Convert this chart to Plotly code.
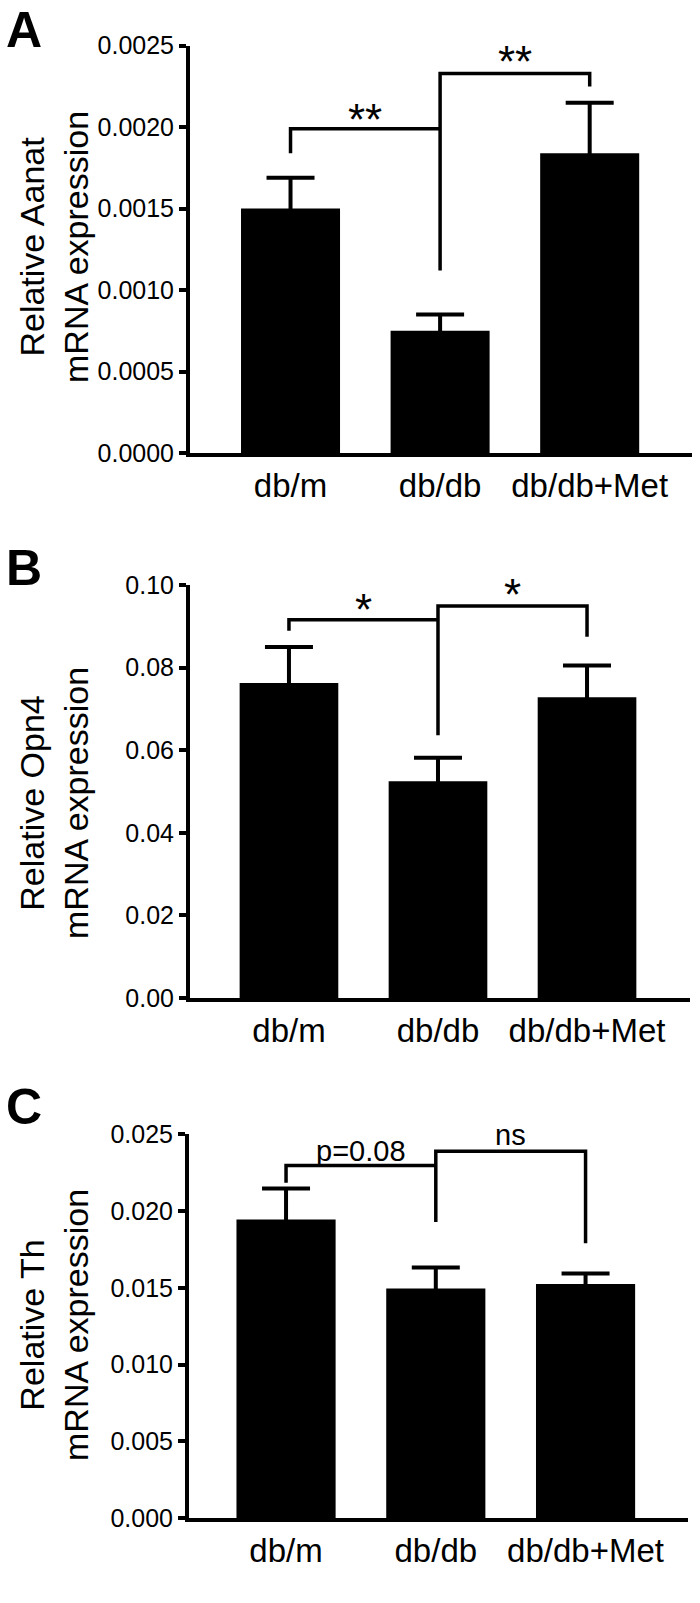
import plotly.graph_objects as go

# ---------------- data ----------------
categories = ["db/m", "db/db", "db/db+Met"]

aanat_mean = [0.00150, 0.00075, 0.00184]
aanat_err = [0.00019, 0.00010, 0.00031]

opn4_mean = [0.0763, 0.0525, 0.0728]
opn4_err = [0.0087, 0.0057, 0.0077]

th_mean = [0.01945, 0.01496, 0.01524]
th_err = [0.00202, 0.00136, 0.00069]

# significance brackets: (x list, y list)
aanat_br1_x = [0, 0, 1]
aanat_br1_y = [0.00184, 0.00199, 0.00199]
aanat_br2_x = [1, 1, 2, 2]
aanat_br2_y = [0.00112, 0.00233, 0.00233, 0.00225]
aanat_labels = ["**", "**"]
aanat_label_x = [0.5, 1.5]
aanat_label_y = [0.00205, 0.00240]

opn4_br1_x = [0, 0, 1]
opn4_br1_y = [0.0889, 0.0916, 0.0916]
opn4_br2_x = [1, 1, 2, 2]
opn4_br2_y = [0.0636, 0.0949, 0.0949, 0.0875]
opn4_labels = ["*", "*"]
opn4_label_x = [0.5, 1.5]
opn4_label_y = [0.0940, 0.0976]

th_br1_x = [0, 0, 1]
th_br1_y = [0.02184, 0.02296, 0.02296]
th_br2_x = [1, 1, 2, 2]
th_br2_y = [0.01928, 0.02389, 0.02389, 0.0179]
th_labels = ["p=0.08", "ns"]
th_label_x = [0.5, 1.5]
th_label_y = [0.02390, 0.02497]

y_titles = ["Relative Aanat<br>mRNA expression",
            "Relative Opn4<br>mRNA expression",
            "Relative Th<br>mRNA expression"]
panel_letters = ["A", "B", "C"]

# ---------------- figure ----------------
W, H = 700, 1603
FONT = "Liberation Sans, Arial, Helvetica, sans-serif"

panels = [
    dict(mean=aanat_mean, err=aanat_err,
         b1=(aanat_br1_x, aanat_br1_y), b2=(aanat_br2_x, aanat_br2_y),
         labels=aanat_labels, lx=aanat_label_x, ly=aanat_label_y,
         yrange=[0, 0.0025], dtick=0.0005, fmt=".4f",
         xpx=(190, 692), ypx=(45.7, 453), xrange=[-0.672, 2.684],
         title_y=247, letter_y=30, lab_size=44),
    dict(mean=opn4_mean, err=opn4_err,
         b1=(opn4_br1_x, opn4_br1_y), b2=(opn4_br2_x, opn4_br2_y),
         labels=opn4_labels, lx=opn4_label_x, ly=opn4_label_y,
         yrange=[0, 0.10], dtick=0.02, fmt=".2f",
         xpx=(190, 690), ypx=(585, 998), xrange=[-0.664, 2.691],
         title_y=803, letter_y=568, lab_size=44),
    dict(mean=th_mean, err=th_err,
         b1=(th_br1_x, th_br1_y), b2=(th_br2_x, th_br2_y),
         labels=th_labels, lx=th_label_x, ly=th_label_y,
         yrange=[0, 0.025], dtick=0.005, fmt=".3f",
         xpx=(189, 688), ypx=(1134.3, 1518), xrange=[-0.648, 2.684],
         title_y=1325, letter_y=1107, lab_size=29),
]

fig = go.Figure()
annotations = []
layout = {}

for i, p in enumerate(panels):
    n = "" if i == 0 else str(i + 1)
    xa, ya = "x" + n, "y" + n
    xs = list(range(len(categories)))
    # symmetric SEM bars; the lower half is hidden inside the black bar
    fig.add_trace(go.Bar(
        x=xs, y=p["mean"], xaxis=xa, yaxis=ya,
        marker=dict(color="black", line=dict(width=0)),
        error_y=dict(type="data", symmetric=True, array=p["err"],
                     color="black", thickness=4, width=24),
        showlegend=False, hoverinfo="skip",
    ))
    for bx, by in (p["b1"], p["b2"]):
        fig.add_trace(go.Scatter(
            x=bx, y=by, xaxis=xa, yaxis=ya, mode="lines",
            line=dict(color="black", width=3.5),
            showlegend=False, hoverinfo="skip",
        ))
    for t, x, y in zip(p["labels"], p["lx"], p["ly"]):
        annotations.append(dict(
            x=x, y=y, xref=xa, yref=ya, text=t, showarrow=False,
            xanchor="center", yanchor="middle",
            font=dict(family=FONT, size=p["lab_size"], color="black"),
        ))
    x0, x1 = p["xpx"]
    ytop, ybot = p["ypx"]
    layout["xaxis" + n] = dict(
        domain=[x0 / W, x1 / W], range=p["xrange"], anchor=ya,
        tickmode="array", tickvals=xs, ticktext=categories,
        ticks="", showline=True, linecolor="black", linewidth=4,
        showgrid=False, zeroline=False, fixedrange=True, automargin=False,
        tickfont=dict(family=FONT, size=33, color="black"),
    )
    layout["yaxis" + n] = dict(
        domain=[1 - ybot / H, 1 - ytop / H], range=p["yrange"], anchor=xa,
        dtick=p["dtick"], tick0=0, tickformat=p["fmt"],
        ticks="outside", ticklen=7, tickwidth=4, tickcolor="black",
        showline=True, linecolor="black", linewidth=4,
        showgrid=False, zeroline=False, fixedrange=True, automargin=False,
        tickfont=dict(family=FONT, size=25, color="black"),
    )
    annotations.append(dict(
        x=54 / W, y=1 - p["title_y"] / H, xref="paper", yref="paper",
        text=y_titles[i], textangle=-90, showarrow=False,
        xanchor="center", yanchor="middle",
        font=dict(family=FONT, size=34, color="black"),
    ))
    annotations.append(dict(
        x=24 / W, y=1 - p["letter_y"] / H, xref="paper", yref="paper",
        text="<b>" + panel_letters[i] + "</b>", showarrow=False,
        xanchor="center", yanchor="middle",
        font=dict(family=FONT, size=50, color="black"),
    ))

fig.update_layout(
    template="none",
    width=W, height=H,
    margin=dict(l=0, r=0, t=0, b=0, pad=0, autoexpand=False),
    paper_bgcolor="white", plot_bgcolor="white",
    bargap=0.338,
    showlegend=False,
    annotations=annotations,
    **layout,
)

fig.write_html("out.html", config={"displayModeBar": False},
               post_script="document.body.style.margin='0';")
